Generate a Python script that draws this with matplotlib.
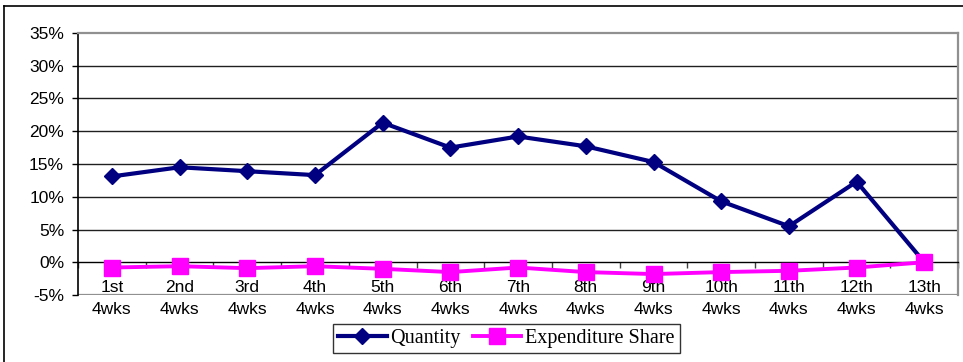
import numpy as np
import matplotlib
matplotlib.use("Agg")
import matplotlib.pyplot as plt
from matplotlib.lines import Line2D

# four-week periods and % change per period
periods = ["1st", "2nd", "3rd", "4th", "5th", "6th", "7th",
           "8th", "9th", "10th", "11th", "12th", "13th"]
quantity = [13.1, 14.5, 13.9, 13.3, 21.3, 17.5, 19.2, 17.7, 15.3, 9.3, 5.5, 12.3, 0.0]
expenditure_share = [-0.8, -0.6, -0.9, -0.6, -1.0, -1.5, -0.8, -1.5, -1.8, -1.5, -1.3, -0.8, 0.0]
y_ticks = [-5, 0, 5, 10, 15, 20, 25, 30, 35]

plt.rcParams["font.family"] = ["Liberation Sans", "DejaVu Sans"]

fig = plt.figure(figsize=(9.63, 3.62), dpi=100)
ax = fig.add_axes([0.081, 0.185, 0.914, 0.724])

x = np.arange(1, len(periods) + 1)
ax.plot(x, quantity, color="#000080", lw=3.0, marker="D", ms=8,
        label="Quantity", zorder=3, clip_on=False)
ax.plot(x, expenditure_share, color="#FF00FF", lw=2.8, marker="s", ms=11,
        label="Expenditure Share", zorder=4, clip_on=False)

ax.set_xlim(0.5, len(periods) + 0.5)
ax.set_ylim(-5, 35)
ax.set_yticks(y_ticks)
ax.set_yticklabels([f"{v}%" for v in y_ticks])

# gridlines
for v in y_ticks[2:-1]:
    ax.axhline(v, color="#202020", lw=1.0, zorder=1)
ax.axhline(-5, color="#909090", lw=1.6, zorder=1)

# category axis crosses at zero
ax.spines["bottom"].set_position(("data", 0))
ax.spines["bottom"].set_color("black")
ax.spines["bottom"].set_linewidth(1.0)
for side in ("top", "right"):
    ax.spines[side].set_color("#909090")
    ax.spines[side].set_linewidth(1.6)
ax.spines["left"].set_color("black")
ax.spines["left"].set_linewidth(1.2)

ax.set_xticks(np.arange(0.5, len(periods) + 1, 1.0))
ax.set_xticklabels([])
ax.set_xticks(x, minor=True)
ax.set_xticklabels([f"{p}\n4wks" for p in periods], minor=True, linespacing=1.55)
ax.tick_params(axis="x", which="major", direction="out", length=4, width=1, color="#404040")
ax.tick_params(axis="x", which="minor", length=0, pad=13, labelsize=12.5)
ax.tick_params(axis="y", direction="out", length=4, width=1, pad=6, labelsize=12.5)

leg = fig.legend(loc="center", bbox_to_anchor=(0.526, 0.065), ncol=2,
                 prop={"family": "Liberation Serif", "size": 14.5},
                 frameon=True, fancybox=False, edgecolor="black",
                 handlelength=2.4, handletextpad=0.2, columnspacing=0.6,
                 borderpad=0.25, borderaxespad=0)
leg.get_frame().set_linewidth(1.0)

# chart border
fig.add_artist(Line2D([4 / 963, 1], [1 - 6 / 362, 1 - 6 / 362],
                      transform=fig.transFigure, color="black", lw=1.2))
fig.add_artist(Line2D([4 / 963, 4 / 963], [0, 1 - 6 / 362],
                      transform=fig.transFigure, color="black", lw=1.2))

fig.savefig("out.png", dpi=100)
